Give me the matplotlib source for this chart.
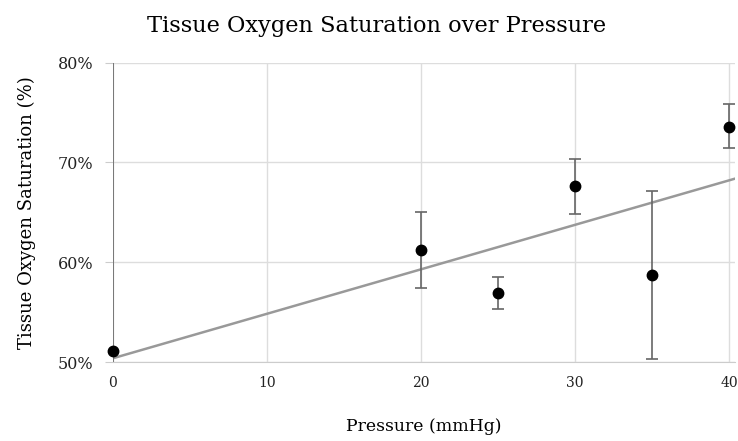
import numpy as np
import matplotlib.pyplot as plt
from matplotlib.ticker import FuncFormatter

# Data
pressure = [0, 20, 25, 30, 35, 40]
saturation = [51.1, 61.2, 56.9, 67.6, 58.7, 73.6]
err_low = [1.6, 3.8, 1.6, 2.8, 8.4, 2.2]
err_high = [32.0, 3.8, 1.6, 2.7, 8.4, 2.3]

x_ticks = [0, 10, 20, 30, 40]
y_ticks = [50, 60, 70, 80]

plt.rcParams['font.family'] = ['DejaVu Serif']

fig = plt.figure(figsize=(7.38, 4.41), dpi=100)
ax = fig.add_axes([0.153, 0.179, 0.843, 0.679])

# Linear trendline through the points
slope, intercept = np.polyfit(pressure, saturation, 1)
xs = np.array([-1, 41])
ax.plot(xs, slope * xs + intercept, color='#999999', lw=1.8, zorder=2)

ax.errorbar(pressure, saturation, yerr=[err_low, err_high], fmt='none',
            ecolor='#666666', elinewidth=1.2, capsize=4.5, capthick=1.2,
            zorder=3)
ax.plot(pressure, saturation, 'o', color='black', ms=7.5, zorder=4, clip_on=False)

ax.set_xlim(0, 40.4)
ax.set_ylim(50, 80)
ax.set_xticks(x_ticks)
ax.set_yticks(y_ticks)
ax.yaxis.set_major_formatter(FuncFormatter(lambda v, p: f'{int(v)}%'))
ax.grid(True, color='#dddddd', lw=1)
ax.set_axisbelow(True)

for side in ['top', 'right', 'left']:
    ax.spines[side].set_visible(False)
ax.spines['bottom'].set_color('#cccccc')

ax.tick_params(axis='x', length=0, pad=10, labelsize=10, labelcolor='#222222')
ax.tick_params(axis='y', length=6, color='#cccccc', pad=8, labelsize=11.5,
               labelcolor='#222222')

fig.suptitle('Tissue Oxygen Saturation over Pressure', fontsize=16.2,
             x=0.51, y=0.965)
ax.set_xlabel('Pressure (mmHg)', fontsize=12.4, labelpad=20)
ax.set_ylabel('Tissue Oxygen Saturation (%)', fontsize=13, labelpad=16)

fig.savefig('out.png', dpi=100)
